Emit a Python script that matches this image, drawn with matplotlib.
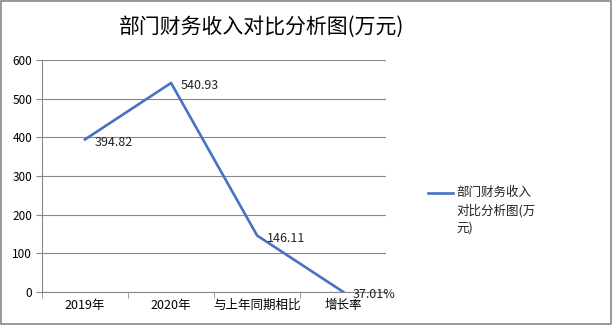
import matplotlib.pyplot as plt
from matplotlib.lines import Line2D
from matplotlib.patches import Rectangle

plt.rcParams['font.family'] = ['Noto Sans CJK SC', 'DejaVu Sans']

title = '部门财务收入对比分析图(万元)'
categories = ['2019年', '2020年', '与上年同期相比', '增长率']
values = [394.82, 540.93, 146.11, 0.3701]
labels = ['394.82', '540.93', '146.11', '37.01%']
series_name = '部门财务收入\n对比分析图(万\n元)'

fig = plt.figure(figsize=(6.13, 3.25), dpi=100)
ax = fig.add_axes([0.0685, 0.1015, 0.5615, 0.7135])

x = range(len(categories))
ax.plot(x, values, color='#4472C4', linewidth=1.9)
for xi, v, t in zip(x, values, labels):
    ax.annotate(t, (xi, v), xytext=(7, -2), textcoords='offset points',
                ha='left', va='center', fontsize=9, color='#222222')

ax.set_xlim(-0.5, 3.5)
ax.set_ylim(0, 600)
ax.set_yticks(range(0, 601, 100))
ax.set_xticks(list(x))
ax.set_xticklabels(categories, fontsize=9)
ax.set_xticks([-0.5, 0.5, 1.5, 2.5, 3.5], minor=True)
ax.tick_params(axis='x', which='major', length=0, pad=5)
ax.tick_params(axis='x', which='minor', length=4, color='#888888')
ax.tick_params(axis='y', labelsize=8.5, length=4, color='#888888', pad=3)
ax.yaxis.grid(True, color='#888888', linewidth=0.8)
ax.set_axisbelow(True)
for s in ['top', 'right']:
    ax.spines[s].set_visible(False)
ax.spines['left'].set_color('#888888')
ax.spines['bottom'].set_color('#888888')

fig.suptitle(title, x=0.427, y=0.917, va='center', fontsize=15)

# legend: handle next to the first line of the wrapped series name
fig.add_artist(Line2D([428 / 613, 453 / 613], [1 - 193 / 325, 1 - 193 / 325],
                      color='#4472C4', linewidth=1.9))
fig.text(456 / 613, 1 - 186 / 325, series_name, ha='left', va='top',
         fontsize=9, linespacing=1.45, color='#222222')

fig.patches.append(Rectangle((0.002, 0.003), 0.995, 0.994, transform=fig.transFigure,
                             fill=False, edgecolor='#888888', linewidth=1.2))

fig.savefig('out.png', dpi=100)
